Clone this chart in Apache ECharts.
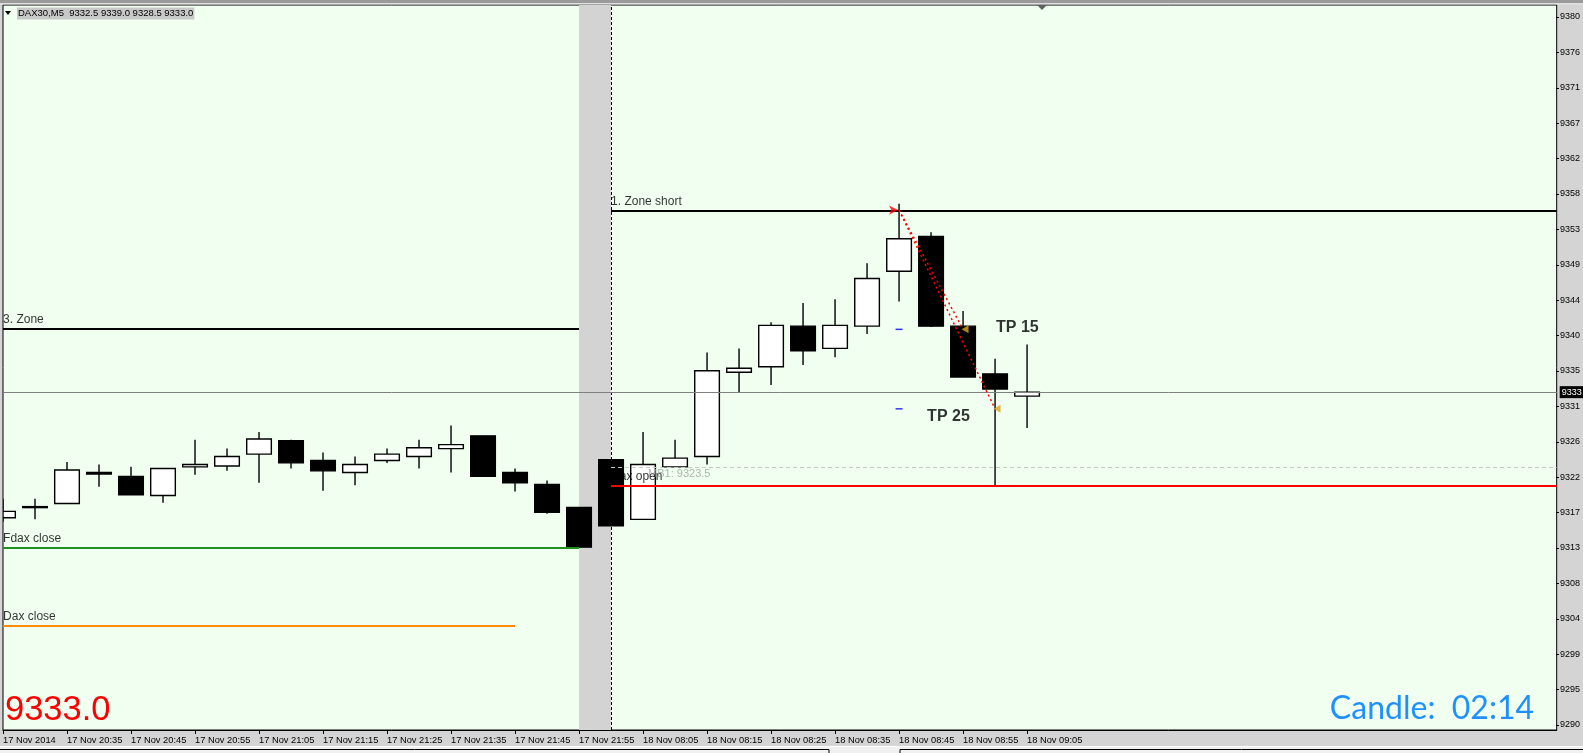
<!DOCTYPE html>
<html><head><meta charset="utf-8">
<script src="https://cdn.jsdelivr.net/npm/echarts@6/dist/echarts.min.js"></script>
<style>html,body{margin:0;padding:0;background:#d4d4d4;overflow:hidden}#c{width:1583px;height:753px;}</style>
</head><body><div id="c"></div>
<script>
// ---------------- data ----------------
const symbolName = 'DAX30,M5';
const candleTimes = ['17 Nov 20:25','17 Nov 20:30','17 Nov 20:35','17 Nov 20:40','17 Nov 20:45','17 Nov 20:50','17 Nov 20:55','17 Nov 21:00','17 Nov 21:05','17 Nov 21:10','17 Nov 21:15','17 Nov 21:20','17 Nov 21:25','17 Nov 21:30','17 Nov 21:35','17 Nov 21:40','17 Nov 21:45','17 Nov 21:50','17 Nov 21:55','18 Nov 08:00','18 Nov 08:05','18 Nov 08:10','18 Nov 08:15','18 Nov 08:20','18 Nov 08:25','18 Nov 08:30','18 Nov 08:35','18 Nov 08:40','18 Nov 08:45','18 Nov 08:50','18 Nov 08:55','18 Nov 09:00','18 Nov 09:05'];
const opens  = [9317.2,9318.5,9319.0,9322.9,9322.4,9320.0,9323.6,9323.7,9325.2,9326.9,9324.4,9322.9,9324.4,9324.9,9325.9,9327.5,9322.9,9321.4,9318.5,9324.5,9317.0,9323.6,9324.9,9335.5,9336.2,9341.3,9338.5,9341.3,9348.2,9352.6,9341.3,9335.3,9332.5];
const highs  = [9319.6,9319.6,9324.2,9323.9,9323.6,9323.4,9327.0,9325.9,9328.0,9327.0,9325.4,9324.9,9325.9,9327.0,9328.8,9327.5,9323.4,9321.9,9318.5,9324.5,9328.0,9327.0,9338.0,9338.5,9341.8,9344.2,9344.7,9349.2,9356.7,9353.1,9343.2,9337.2,9339.0];
const lows   = [9316.7,9317.0,9319.0,9321.1,9320.1,9319.1,9322.6,9323.1,9321.6,9323.4,9320.6,9321.3,9324.1,9323.4,9322.9,9322.4,9320.5,9317.7,9313.5,9316.2,9317.0,9323.6,9323.9,9333.0,9333.9,9336.4,9337.4,9340.3,9344.4,9341.2,9334.9,9321.2,9328.5];
const closes = [9318.0,9318.6,9323.2,9322.7,9320.1,9323.4,9323.9,9324.9,9327.1,9324.1,9323.1,9323.9,9325.2,9326.0,9326.4,9322.4,9321.6,9317.9,9313.5,9316.2,9323.9,9324.7,9335.7,9336.0,9341.4,9338.2,9341.4,9347.3,9352.3,9341.3,9334.9,9333.4,9333.0];

const xTickIndex  = [0,2,4,6,8,10,12,14,16,18,20,22,24,26,28,30,32];
const xTickLabels = ['17 Nov 2014','17 Nov 20:35','17 Nov 20:45','17 Nov 20:55','17 Nov 21:05','17 Nov 21:15','17 Nov 21:25','17 Nov 21:35','17 Nov 21:45','17 Nov 21:55','18 Nov 08:05','18 Nov 08:15','18 Nov 08:25','18 Nov 08:35','18 Nov 08:45','18 Nov 08:55','18 Nov 09:05'];
const yTickValues = [9290,9294.5,9299,9303.5,9308,9312.5,9317,9321.5,9326,9330.5,9335,9339.5,9344,9348.5,9353,9357.5,9362,9366.5,9371,9375.5,9380];

const levelNames  = ['1. Zone short','3. Zone','Fdax close','Dax close','Dax open','MB1: 9323.5'];
const levelPrices = [9355.8, 9341.0, 9313.4, 9303.6, 9321.2, 9323.5];
const levelFrom   = [19, 0, 0, 0, 19, 19];
const levelTo     = [null, 18, 18, 16, null, null];   // null = to the right edge

const bidPrice = 9333.0;
const sessionBreak = [18, 19];
const tradeEntry = [28, 9355.9];
const tradeExits = [[30, 9340.9], [31, 9330.9]];
const tpMarks = [[28, 9340.9], [28, 9330.9]];
const tpNames = ['TP 15', 'TP 25'];
const tpTextAt = [[31.03, 9341.1], [28.875, 9329.9]];
const candleTimer = '02:14';

// ---------------- chart ----------------
const FONT = '"Liberation Sans", Arial, sans-serif';
const xMax = 48.55;
const last = closes.length - 1;
const candleData = opens.map((o, i) => [i, o, closes[i], lows[i], highs[i]]);

const levelStyle = {
  '1. Zone short': {color:'#000000', width:2, type:'solid'},
  '3. Zone':       {color:'#000000', width:2, type:'solid'},
  'Fdax close':    {color:'#1f8f1f', width:2, type:'solid'},
  'Dax close':     {color:'#ff8c00', width:2, type:'solid'},
  'Dax open':      {color:'#ff0000', width:2, type:'solid'},
  'MB1: 9323.5':   {color:'#c8c8c8', width:1, type:[4,3]}
};

function renderCandle(params, api) {
  const x = api.value(0), o = api.value(1), c = api.value(2), l = api.value(3), h = api.value(4);
  const pO = api.coord([x, o]), pC = api.coord([x, c]), pL = api.coord([x, l]), pH = api.coord([x, h]);
  const w = api.size([1, 0])[0] * 0.77;
  const top = Math.min(pO[1], pC[1]), bot = Math.max(pO[1], pC[1]);
  const bull = c >= o;
  const body = echarts.graphic.clipRectByRect(
    {x: pO[0] - w / 2, y: top, width: w, height: Math.max(bot - top, 1)},
    {x: params.coordSys.x, y: params.coordSys.y, width: params.coordSys.width, height: params.coordSys.height});
  const children = [{
    type: 'line', shape: {x1: pH[0], y1: pH[1], x2: pL[0], y2: pL[1]},
    style: {stroke: '#000', lineWidth: 1.4}
  }];
  if (body) children.push({type: 'rect', shape: body, style: {fill: bull ? '#ffffff' : '#000000', stroke: '#000', lineWidth: 1.4}});
  return {type: 'group', children};
}

const chart = echarts.init(document.getElementById('c'), null, {renderer: 'canvas'});

const option = {
  animation: false,
  backgroundColor: '#d4d4d4',
  grid: [
    {left: 3, right: 26.3, top: 5, bottom: 23, show: true, backgroundColor: '#F0FFF0', borderColor: '#000', borderWidth: 1, z: 0},
    {left: 3, right: 26.3, top: 17, bottom: 28, show: false}
  ],
  xAxis: [
    {gridIndex: 0, type: 'value', min: 0, max: xMax,
     axisLine: {show: true, onZero: false, lineStyle: {color: '#000', width: 1}},
     axisTick: {show: true, customValues: xTickIndex, length: 4, lineStyle: {color: '#000'}},
     axisLabel: {customValues: xTickIndex, formatter: v => { const k = xTickIndex.indexOf(Math.round(v)); return k >= 0 ? xTickLabels[k] : ''; },
                 align: 'left', margin: 6, fontSize: 9.3, fontFamily: FONT, color: '#000'},
     splitLine: {show: false}},
    {gridIndex: 1, type: 'value', min: 1, max: 2, show: false}
  ],
  yAxis: [
    {gridIndex: 0, type: 'value', min: 9290.5, max: 9381.7, show: false, axisLine: {onZero: false}, splitLine: {show: false}},
    {gridIndex: 1, type: 'value', position: 'right', min: 9290, max: 9380,
     axisLine: {show: false, onZero: false},
     axisTick: {show: true, customValues: yTickValues, length: 3, lineStyle: {color: '#000'}},
     axisLabel: {customValues: yTickValues, formatter: v => String(Math.round(v)), margin: 4, fontSize: 9, fontFamily: FONT, color: '#000'},
     splitLine: {show: false}}
  ],
  series: [
    { // session band + separator
      type: 'line', xAxisIndex: 0, yAxisIndex: 0, data: [], z: 1, silent: true,
      markArea: {silent: true, itemStyle: {color: '#d3d3d3'}, data: [[{xAxis: sessionBreak[0]}, {xAxis: sessionBreak[1]}]]},
      markLine: {silent: true, symbol: ['none', 'none'], label: {show: false},
                 lineStyle: {color: '#000', type: [3, 2], width: 1}, data: [{xAxis: sessionBreak[1]}]}
    },
    { // candles
      type: 'custom', xAxisIndex: 0, yAxisIndex: 0, z: 3, clip: true, silent: true,
      renderItem: renderCandle, encode: {x: 0, y: [1, 2, 3, 4]}, data: candleData
    },
    { // horizontal levels + bid line (over candles)
      type: 'line', xAxisIndex: 0, yAxisIndex: 0, data: [], z: 4, silent: true,
      markLine: {
        silent: true, symbol: ['none', 'none'], label: {show: false}, animation: false,
        data: levelNames.map((n, i) => [
          {coord: [levelFrom[i], levelPrices[i]], lineStyle: levelStyle[n]},
          {coord: [levelTo[i] === null ? xMax : levelTo[i], levelPrices[i]]}
        ]).concat([{
          yAxis: bidPrice, lineStyle: {color: '#808080', width: 1, type: 'solid'},
          label: {show: true, position: 'end', distance: 3, formatter: String(Math.round(bidPrice)),
                  backgroundColor: '#000', color: '#fff', padding: [2, 2, 1, 2], fontSize: 9, fontFamily: FONT}
        }])
      }
    },
    { // level labels (drawn over candles; black text on black body is invisible)
      type: 'scatter', xAxisIndex: 0, yAxisIndex: 0, z: 5, silent: true, symbolSize: 0.1,
      itemStyle: {color: 'rgba(0,0,0,0)'},
      label: {show: true, position: 'right', distance: 0, formatter: '{b}', fontSize: 12, fontFamily: FONT, color: '#000'},
      data: levelNames.map((n, i) => ({
        name: n, value: [levelFrom[i], levelPrices[i]],
        label: n.startsWith('MB1') ? {offset: [37, 6], color: '#a0a0a0', fontSize: 11} : {offset: [0, -9]}
      }))
    },
    ...tradeExits.map(ex => ({
      type: 'line', xAxisIndex: 0, yAxisIndex: 0, z: 5, silent: true, symbol: 'none',
      lineStyle: {color: '#ff0000', type: [2, 3], width: 1.5},
      data: [tradeEntry, ex]
    })),
    { // entry marker
      type: 'scatter', z: 6, silent: true, symbol: 'arrow', symbolRotate: -90, symbolSize: [7, 9], symbolOffset: [-1, 0],
      itemStyle: {color: '#ff0000'}, data: [tradeEntry]
    },
    { // exit markers
      type: 'scatter', z: 6, silent: true, symbol: 'triangle', symbolRotate: 90, symbolSize: [8, 7], symbolOffset: [2, 0],
      itemStyle: {color: '#DAA520'}, data: tradeExits
    },
    { // TP dashes
      type: 'scatter', z: 6, silent: true, symbol: 'rect', symbolSize: [7, 1.5],
      itemStyle: {color: '#0000ff'}, data: tpMarks
    },
    { // TP labels
      type: 'scatter', z: 6, silent: true, symbolSize: 0.1, itemStyle: {color: 'rgba(0,0,0,0)'},
      label: {show: true, position: 'right', distance: 0, formatter: '{b}', fontSize: 16, fontWeight: 'bold', fontFamily: FONT, color: '#000'},
      data: tpNames.map((n, i) => ({name: n, value: tpTextAt[i]}))
    }
  ],
  graphic: [
    {type: 'rect', z: 100, shape: {x: 0, y: 0, width: 1583, height: 3}, style: {fill: '#9a9a9a'}},
    {type: 'rect', z: 100, shape: {x: 0, y: 3, width: 1583, height: 1.5}, style: {fill: '#e0e0e0'}},
    {type: 'polygon', z: 100, shape: {points: [[1037, 5], [1047, 5], [1042, 10]]}, style: {fill: '#606060'}},
    {type: 'polygon', z: 100, shape: {points: [[5, 11], [11, 11], [8, 15]]}, style: {fill: '#000'}},
    {type: 'text', z: 100, x: 17, y: 13.5,
     style: {text: symbolName + '  ' + [opens[last], highs[last], lows[last], closes[last]].map(v => v.toFixed(1)).join(' '),
             font: '9.5px ' + FONT, fill: '#000', verticalAlign: 'middle', backgroundColor: '#c8c8c8', padding: [1, 1, 1, 1]}},
    {type: 'text', z: 100, x: 5, y: 710,
     style: {text: closes[last].toFixed(1), font: '34.5px ' + FONT, fill: '#ff0000', verticalAlign: 'middle'}},
    {type: 'text', z: 100, x: 1534, y: 709,
     style: {text: 'Candle:  ' + candleTimer, font: '32px "Comic Sans MS", Lato, sans-serif', fill: '#1e90ff', align: 'right', verticalAlign: 'middle'}},
    {type: 'rect', z: 100, shape: {x: 0, y: 746, width: 1583, height: 1}, style: {fill: '#ffffff'}},
    {type: 'rect', z: 100, shape: {x: 0, y: 747, width: 1583, height: 6}, style: {fill: '#f0f0f0'}},
    {type: 'polyline', z: 101, shape: {points: [[0, 749.5], [829, 749.5], [829, 753]]}, style: {stroke: '#000', lineWidth: 1, fill: null}},
    {type: 'polyline', z: 101, shape: {points: [[900, 753], [900, 749.5], [1583, 749.5]]}, style: {stroke: '#000', lineWidth: 1, fill: null}}
  ]
};
chart.setOption(option);
</script>
</body></html>
